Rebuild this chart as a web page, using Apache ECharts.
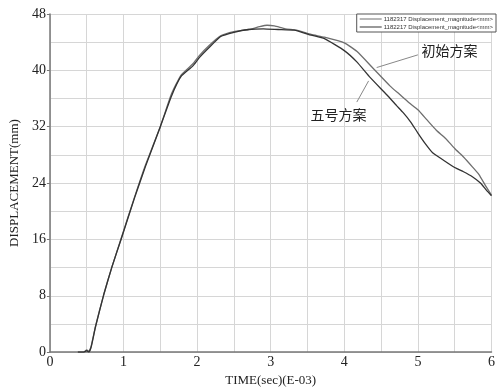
<!DOCTYPE html>
<html>
<head>
<meta charset="utf-8">
<script src="https://cdn.jsdelivr.net/npm/echarts@6/dist/echarts.min.js"></script>
<style>
  html, body { margin: 0; padding: 0; background: #fff; }
  #chart { width: 498px; height: 392px; }
</style>
</head>
<body>
<div id="chart"></div>
<script>
// time in E-03 sec, displacement in mm
const timesInitial = [0.38, 0.46, 0.5, 0.53, 0.56, 0.62, 0.73, 0.84, 0.97, 1.15, 1.3, 1.5, 1.65, 1.78, 1.94, 2.03, 2.16, 2.32, 2.5, 2.7, 2.85, 2.95, 3.05, 3.2, 3.35, 3.55, 3.73, 4.0, 4.17, 4.4, 4.62, 4.75, 4.88, 5.0, 5.12, 5.25, 5.38, 5.5, 5.62, 5.74, 5.83, 5.92, 6.0]
const valuesInitial = [0, 0, 0.3, 0.1, 0.8, 3.7, 8.1, 12.0, 16.2, 22.0, 26.6, 32.0, 36.6, 39.3, 40.9, 42.1, 43.5, 44.9, 45.5, 45.8, 46.2, 46.4, 46.3, 45.9, 45.7, 45.1, 44.7, 43.9, 42.7, 40.2, 37.8, 36.6, 35.4, 34.4, 33.0, 31.5, 30.3, 28.9, 27.7, 26.3, 25.2, 23.6, 22.3]

const timesFive = [0.38, 0.46, 0.5, 0.53, 0.56, 0.62, 0.73, 0.84, 0.97, 1.15, 1.3, 1.5, 1.65, 1.78, 1.94, 2.03, 2.16, 2.32, 2.5, 2.7, 2.9, 3.1, 3.32, 3.55, 3.73, 4.0, 4.17, 4.35, 4.58, 4.71, 4.8, 4.9, 5.0, 5.1, 5.2, 5.34, 5.5, 5.62, 5.74, 5.85, 5.93, 6.0]
const valuesFive = [0, 0, 0.2, 0, 0.7, 3.6, 8.1, 12.0, 16.1, 21.9, 26.4, 32.0, 36.3, 39.1, 40.6, 41.8, 43.2, 44.8, 45.4, 45.8, 45.9, 45.8, 45.7, 45.0, 44.5, 42.8, 41.2, 39.0, 36.5, 35.0, 34.0, 32.7, 31.1, 29.6, 28.3, 27.3, 26.2, 25.6, 24.9, 24.0, 23.0, 22.2]

const legendNames = ['1182317 Displacement_magnitude<mm>', '1182217 Displacement_magnitude<mm>']
const xTicks = [0, 1, 2, 3, 4, 5, 6]
const yTicks = [0, 8, 16, 24, 32, 40, 48]

const toPairs = (ts, vs) => ts.map((t, i) => [t, vs[i]])

const chart = echarts.init(document.getElementById('chart'), null, { renderer: 'canvas' })

const serifFont = '"Liberation Serif", "DejaVu Serif", serif'
const cjkFont = '"Noto Sans CJK SC", sans-serif'

chart.setOption({
  animation: false,
  backgroundColor: '#fff',
  grid: { left: 49, right: 2, top: 14, bottom: 36 },
  legend: {
    data: legendNames,
    orient: 'vertical',
    right: 2,
    top: 14,
    icon: 'rect',
    itemWidth: 22,
    itemHeight: 1,
    itemGap: 2,
    padding: [2, 3, 2, 3],
    borderColor: '#555',
    borderWidth: 1,
    backgroundColor: '#fff',
    textStyle: { fontSize: 6, color: '#333', fontFamily: 'Arial, "Liberation Sans", sans-serif', padding: [0, 0, 0, -3] },
  },
  xAxis: {
    type: 'value',
    min: xTicks[0],
    max: xTicks[xTicks.length - 1],
    interval: 1,
    name: 'TIME(sec)(E-03)',
    nameLocation: 'middle',
    nameGap: 19,
    nameTextStyle: { fontFamily: serifFont, fontSize: 13, color: '#222' },
    axisLine: { onZero: false, lineStyle: { color: '#777', width: 1.5 } },
    axisTick: { show: false },
    axisLabel: { fontFamily: serifFont, fontSize: 14, color: '#222', margin: 3 },
    splitLine: { show: true, lineStyle: { color: '#d6d6d6', width: 1 } },
    minorTick: { show: false, splitNumber: 2 },
    minorSplitLine: { show: true, lineStyle: { color: '#d6d6d6', width: 1 } },
  },
  yAxis: {
    type: 'value',
    min: yTicks[0],
    max: yTicks[yTicks.length - 1],
    interval: 8,
    name: 'DISPLACEMENT(mm)',
    nameLocation: 'middle',
    nameGap: 24,
    nameRotate: 90,
    nameTextStyle: { fontFamily: serifFont, fontSize: 13, color: '#222' },
    axisLine: { show: true, lineStyle: { color: '#777', width: 1.5 } },
    axisTick: { show: true, length: 3, lineStyle: { color: '#777' } },
    axisLabel: { fontFamily: serifFont, fontSize: 14, color: '#222', margin: 4 },
    splitLine: { show: true, lineStyle: { color: '#d6d6d6', width: 1 } },
    minorTick: { show: false, splitNumber: 2 },
    minorSplitLine: { show: true, lineStyle: { color: '#d6d6d6', width: 1 } },
  },
  series: [
    {
      name: legendNames[0],
      type: 'line',
      data: toPairs(timesInitial, valuesInitial),
      symbol: 'none',
      smooth: 0.15,
      color: '#6e6e6e',
      lineStyle: { color: '#6e6e6e', width: 1.3 },
      z: 3,
    },
    {
      name: legendNames[1],
      type: 'line',
      data: toPairs(timesFive, valuesFive),
      symbol: 'none',
      smooth: 0.15,
      color: '#333',
      lineStyle: { color: '#333', width: 1.3 },
      z: 4,
    },
  ],
})

// callout labels, anchored in data coordinates
const callouts = [
  { text: '初始方案', at: [5.05, 42.8], from: [5.0, 42.2], to: [4.44, 40.4] },
  { text: '五号方案', at: [3.54, 33.7], from: [4.17, 35.5], to: [4.33, 38.5] },
]
const px = (p) => chart.convertToPixel({ gridIndex: 0 }, p)
const graphics = []
callouts.forEach((c) => {
  const a = px(c.at), f = px(c.from), t = px(c.to)
  graphics.push({
    type: 'line',
    shape: { x1: f[0], y1: f[1], x2: t[0], y2: t[1] },
    style: { stroke: '#888', lineWidth: 1 },
    z: 10,
  })
  graphics.push({
    type: 'text',
    x: a[0],
    y: a[1],
    style: { text: c.text, font: '14px ' + cjkFont, fill: '#222', verticalAlign: 'middle', textAlign: 'left' },
    z: 10,
  })
})
chart.setOption({ graphic: graphics })
</script>
</body>
</html>
